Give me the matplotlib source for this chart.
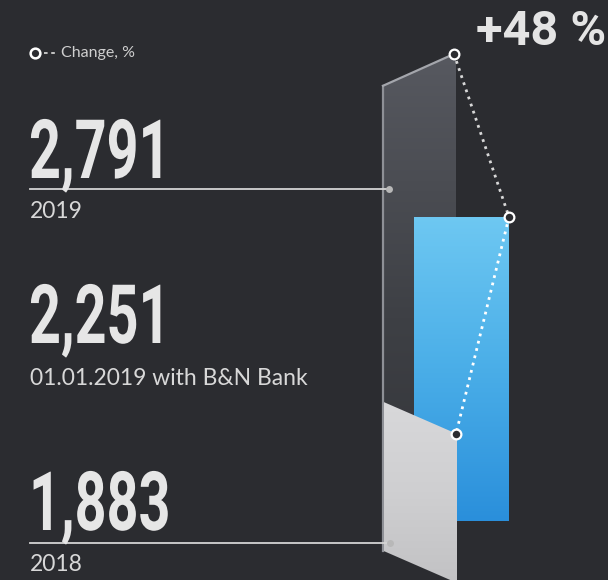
import numpy as np
import matplotlib.pyplot as plt
from matplotlib.patches import Polygon
from matplotlib.colors import LinearSegmentedColormap
from matplotlib.patheffects import AbstractPathEffect
from matplotlib.transforms import Affine2D

# данные
labels = ['2019', '01.01.2019 with B&N Bank', '2018']
values = [2791, 2251, 1883]
change_pct = 48

bg = '#2b2c30'


class HStretch(AbstractPathEffect):
    # сжимает текст по горизонтали относительно точки привязки
    def __init__(self, text, sx):
        super().__init__()
        self.text = text
        self.sx = sx

    def draw_path(self, renderer, gc, tpath, affine, rgbFace=None):
        x0 = self.text.get_transform().transform(self.text.get_position())[0]
        aff = affine + Affine2D().translate(-x0, 0).scale(self.sx, 1).translate(x0, 0)
        renderer.draw_path(gc, tpath, aff, rgbFace)


fig = plt.figure(figsize=(6.08, 5.8), dpi=100, facecolor=bg)

# ось значений для двух "перспективных" столбцов
v_lo, v_hi = 1534, 2920
ax = fig.add_axes([0, 0, 1, 1], zorder=0)
front = fig.add_axes([0, 0, 1, 1], zorder=2)
for a in (ax, front):
    a.axis('off')
    a.patch.set_alpha(0)

skew = 76       # наклон верхней грани
bar_len = 356   # длина серого столбца
x_l, x_r = 383, 456

# тёмный столбец 2019
dark_bot_l = values[2] + skew - bar_len
dark_bot_r = values[2] - bar_len
dark = Polygon([(x_l, values[0] - skew), (x_r, values[0]), (x_r, dark_bot_r), (x_l, dark_bot_l)],
               closed=True, fc='none', ec='none')
ax.add_patch(dark)
dark_cmap = LinearSegmentedColormap.from_list('d', ['#303135', '#3e4045', '#575960'])
im = ax.imshow(np.linspace(0, 1, 256).reshape(-1, 1), extent=(x_l, x_r, dark_bot_r, values[0]),
               origin='lower', aspect='auto', cmap=dark_cmap)
im.set_clip_path(dark)
ax.plot([x_l, x_l], [values[0] - skew, dark_bot_l], color='#8e9096', lw=1.6)
ax.plot([x_l, x_r - 2], [values[0] - skew, values[0]], color='#a4a6ac', lw=1.6)

# серый столбец 2018
grey = Polygon([(x_l + 1, values[2] + skew), (x_r + 1, values[2]), (x_r + 1, values[2] - bar_len),
                (x_l + 1, values[2] + skew - bar_len)], closed=True, fc='none', ec='none')
front.add_patch(grey)
grey_cmap = LinearSegmentedColormap.from_list('g', ['#c2c2c4', '#cfcfd1', '#d8d8da'])
im2 = front.imshow(np.linspace(0, 1, 256).reshape(-1, 1),
                   extent=(x_l, x_r + 2, values[2] - bar_len, values[2] + skew),
                   origin='lower', aspect='auto', cmap=grey_cmap)
im2.set_clip_path(grey)

for a in (ax, front):
    a.set_xlim(0, 608)
    a.set_ylim(v_lo, v_hi)

# синий столбец с собственной шкалой
bx = fig.add_axes([414 / 608, 1 - 521 / 580, 95 / 608, 304 / 580], zorder=1)
bx.axis('off')
bx.patch.set_alpha(0)
blue = bx.bar(0, values[1], width=1, color='none')[0]
blue_cmap = LinearSegmentedColormap.from_list('b', ['#2a8fdb', '#4aaee8', '#6ec8f2'])
im3 = bx.imshow(np.linspace(0, 1, 256).reshape(-1, 1), extent=(-0.5, 0.5, 0, values[1]),
                origin='lower', aspect='auto', cmap=blue_cmap)
im3.set_clip_path(blue)
bx.set_xlim(-0.5, 0.5)
bx.set_ylim(0, values[1])

# линия изменения
p_blue = front.transData.inverted().transform(bx.transData.transform((0.5, values[1])))
cx = [x_r - 2, p_blue[0], x_r]
cy = [values[0], p_blue[1], values[2]]
front.plot(cx[:2], cy[:2], ls=(0, (1, 1.7)), color='#d8d8d8', lw=2, zorder=5)
front.plot(cx[1:], cy[1:], ls=(0, (1, 1.7)), color='white', lw=2, zorder=5)
front.plot(cx, cy, 'o', ms=7, mfc=bg, mec='white', mew=1.6, zorder=6)

# подписи (пиксельная разметка)
lay = fig.add_axes([0, 0, 1, 1], zorder=3)
lay.set_xlim(0, 608)
lay.set_ylim(580, 0)
lay.axis('off')
lay.patch.set_alpha(0)

big = dict(family=['Roboto', 'DejaVu Sans'], weight='bold', fontsize=59,
           color='#e6e6e6', va='baseline', ha='left')
small = dict(family=['Lato', 'DejaVu Sans'], fontsize=16.5, color='#d8d8d8', va='baseline', ha='left')

num_y = [178, 343, 530]
lab_y = [218, 385, 571]
for v, lab, ny, ly in zip(values, labels, num_y, lab_y):
    t = lay.text(29, ny, f'{v:,}', **big)
    t.set_path_effects([HStretch(t, 0.68)])
    lay.text(30, ly, lab, **small)

# выноски
for yy, xe in [(189, 389), (543, 390)]:
    lay.plot([30, xe], [yy, yy], color='#d4d4d4', lw=1.3)
    lay.plot(xe, yy, 'o', ms=5, color='#b8b8b8', mec='none')

# легенда
lay.plot(35, 53, 'o', ms=7, mfc=bg, mec='white', mew=1.8)
lay.plot([44, 56], [53, 53], ls=(0, (2, 2)), color='#cfcfcf', lw=1.3)
lay.text(61, 57, 'Change, %', family=['Lato', 'DejaVu Sans'], fontsize=11.5, color='#cfcfcf',
         va='baseline', ha='left')

lay.text(476, 45, f'+{change_pct} %', family=['Roboto', 'DejaVu Sans'], weight='bold',
         fontsize=35, color='#e4e4e4', va='baseline', ha='left')

fig.savefig('out.png', dpi=100, facecolor=bg)
